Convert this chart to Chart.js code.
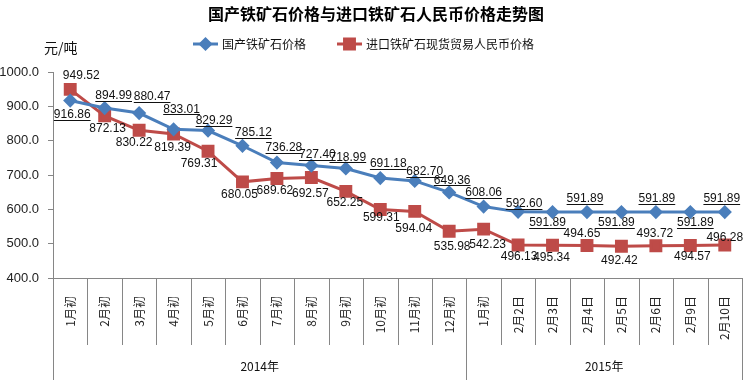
<!DOCTYPE html>
<html>
<head>
<meta charset="utf-8">
<script src="https://cdn.jsdelivr.net/npm/chart.js@4/dist/chart.umd.min.js"></script>
<style>
  html, body { margin: 0; padding: 0; background: #fff; }
  #wrap { width: 752px; height: 380px; }
</style>
</head>
<body>
<div id="wrap"><canvas id="c" width="752" height="380"></canvas></div>
<script>
// ---- data ----
const titleText = '国产铁矿石价格与进口铁矿石人民币价格走势图';
const unitText = '元/吨';
const categories = ['1月初','2月初','3月初','4月初','5月初','6月初','7月初','8月初','9月初','10月初','11月初','12月初',
                    '1月初','2月2日','2月3日','2月4日','2月5日','2月6日','2月9日','2月10日'];
const yearLabels = ['2014年', '2015年'];
const yearCounts = [12, 8];
const seriesNames = ['国产铁矿石价格', '进口铁矿石现货贸易人民币价格'];
const domesticPrice = [916.86, 894.99, 880.47, 833.01, 829.29, 785.12, 736.28, 727.40, 718.99, 691.18, 682.70, 649.36,
                       608.06, 592.60, 591.89, 591.89, 591.89, 591.89, 591.89, 591.89];
const importPrice = [949.52, 872.13, 830.22, 819.39, 769.31, 680.05, 689.62, 692.57, 652.25, 599.31, 594.04, 535.98,
                     542.23, 496.13, 495.34, 494.65, 492.42, 493.72, 494.57, 496.28];
const yTicks = [400, 500, 600, 700, 800, 900, 1000];

// ---- label placement (offsets from each point, px) ----
const blueOffsets = [[2,14],[9,-12],[13,-16],[8,-20],[6,-10],[11,-13],[7,-15],[6,-11],[2,-11],[8,-14],[10,-9],[3,-12],
                     [0,-14],[6,-8],[-5,11],[-2,-13],[-5,11],[1,-13],[5,11],[-3,-13]];
const redOffsets = [[11,-14],[3,13],[-5,12],[-1,14],[-9,12],[-3,13],[-2,12],[-1,16],[-1,11],[1,8],[-1,17],[3,15],
                    [4,16],[1,12],[-1,12],[-5,-12],[-2,14],[-1,-12],[2,11],[0,-7]];

const BLUE = '#4A7EBB';
const RED = '#BE4B48';
const AXIS = '#868686';
const CJK = '"Noto Sans CJK SC", "Noto Sans", sans-serif';
const NUM = '"Liberation Sans", Arial, sans-serif';

const overlay = {
  id: 'overlay',
  afterDatasetsDraw(chart) {
    const ctx = chart.ctx;
    const xs = chart.scales.x;
    const area = chart.chartArea;
    ctx.save();

    // title
    ctx.fillStyle = '#000';
    ctx.textAlign = 'center';
    ctx.textBaseline = 'middle';
    ctx.font = 'bold 16px ' + CJK;
    ctx.fillText(titleText, 376, 14);

    // unit
    ctx.font = '14px ' + CJK;
    ctx.fillStyle = '#111';
    ctx.textAlign = 'left';
    ctx.fillText(unitText, 44, 48);

    // legend
    const legendItems = [
      {x: 193, color: BLUE, style: 'rectRot', r: 5, text: seriesNames[0]},
      {x: 337, color: RED, style: 'rect', r: 7, text: seriesNames[1]}
    ];
    legendItems.forEach(it => {
      ctx.strokeStyle = it.color;
      ctx.lineWidth = 3;
      ctx.beginPath();
      ctx.moveTo(it.x, 44);
      ctx.lineTo(it.x + 25, 44);
      ctx.stroke();
      ctx.fillStyle = it.color;
      Chart.helpers.drawPoint(ctx, {pointStyle: it.style, radius: it.r, borderWidth: 1}, it.x + 12.5, 44);
      ctx.fill();
      ctx.fillStyle = '#111';
      ctx.font = '12px ' + CJK;
      ctx.textAlign = 'left';
      ctx.textBaseline = 'middle';
      ctx.fillText(it.text, it.x + 29, 44);
    });

    // category separators and year group labels
    const n = categories.length;
    const w = (area.right - area.left) / n;
    const groupBounds = [0];
    yearCounts.forEach(c => groupBounds.push(groupBounds[groupBounds.length - 1] + c));
    ctx.strokeStyle = AXIS;
    ctx.lineWidth = 1;
    for (let i = 0; i <= n; i++) {
      const x = Math.round(xs.getPixelForValue(Math.min(i, n - 1)) + (i < n ? -w / 2 : w / 2)) + 0.5;
      const full = groupBounds.includes(i);
      ctx.beginPath();
      ctx.moveTo(x, area.bottom);
      ctx.lineTo(x, full ? 380 : 345);
      ctx.stroke();
    }
    ctx.fillStyle = '#111';
    ctx.font = '12px ' + CJK;
    ctx.textAlign = 'center';
    ctx.textBaseline = 'middle';
    yearLabels.forEach((lab, g) => {
      const x0 = area.left + groupBounds[g] * w;
      const x1 = area.left + groupBounds[g + 1] * w;
      ctx.fillText(lab, (x0 + x1) / 2, 366);
    });

    // data labels
    ctx.font = '12px ' + NUM;
    const sets = [{meta: chart.getDatasetMeta(0), vals: domesticPrice, off: blueOffsets, underline: true},
                  {meta: chart.getDatasetMeta(1), vals: importPrice, off: redOffsets, underline: false}];
    sets.forEach(s => {
      s.meta.data.forEach((pt, i) => {
        const txt = s.vals[i].toFixed(2);
        const cx = pt.x + s.off[i][0];
        const cy = pt.y + s.off[i][1];
        ctx.fillStyle = '#111';
        ctx.textAlign = 'center';
        ctx.textBaseline = 'middle';
        ctx.fillText(txt, cx, cy);
        if (s.underline) {
          const tw = ctx.measureText(txt).width;
          ctx.strokeStyle = '#111';
          ctx.lineWidth = 1;
          ctx.beginPath();
          ctx.moveTo(cx - tw / 2, Math.round(cy + 5) + 0.5);
          ctx.lineTo(cx + tw / 2, Math.round(cy + 5) + 0.5);
          ctx.stroke();
        }
      });
    });
    ctx.restore();
  }
};

new Chart(document.getElementById('c'), {
  type: 'line',
  data: {
    labels: categories,
    datasets: [
      {
        label: seriesNames[0], data: domesticPrice,
        borderColor: BLUE, backgroundColor: BLUE, borderWidth: 3,
        pointStyle: 'rectRot', pointRadius: 5, pointBackgroundColor: BLUE, pointBorderColor: BLUE,
        tension: 0, clip: false
      },
      {
        label: seriesNames[1], data: importPrice,
        borderColor: RED, backgroundColor: RED, borderWidth: 3,
        pointStyle: 'rect', pointRadius: 7, pointBackgroundColor: RED, pointBorderColor: RED,
        tension: 0, clip: false
      }
    ]
  },
  options: {
    responsive: false,
    devicePixelRatio: 1,
    animation: false,
    layout: { padding: { top: 72, left: 0, right: 6, bottom: 0 } },
    plugins: { legend: { display: false }, title: { display: false }, tooltip: { enabled: false } },
    scales: {
      x: {
        type: 'category',
        offset: true,
        grid: { display: false },
        border: { display: true, color: AXIS, width: 1 },
        ticks: {
          autoSkip: false, minRotation: 90, maxRotation: 90, padding: 10,
          color: '#222', font: { family: CJK, size: 12 }
        },
        afterFit(s) { s.height = 102; }
      },
      y: {
        min: yTicks[0], max: yTicks[yTicks.length - 1],
        afterBuildTicks(s) { s.ticks = yTicks.map(v => ({ value: v })); },
        grid: { drawOnChartArea: false, drawTicks: true, tickLength: 5, color: AXIS },
        border: { display: true, color: AXIS, width: 1 },
        ticks: {
          padding: 9, color: '#222', font: { family: NUM, size: 13 },
          callback: v => Number(v).toFixed(1)
        },
        afterFit(s) { s.width = 53; }
      }
    }
  },
  plugins: [overlay]
});
</script>
</body>
</html>
